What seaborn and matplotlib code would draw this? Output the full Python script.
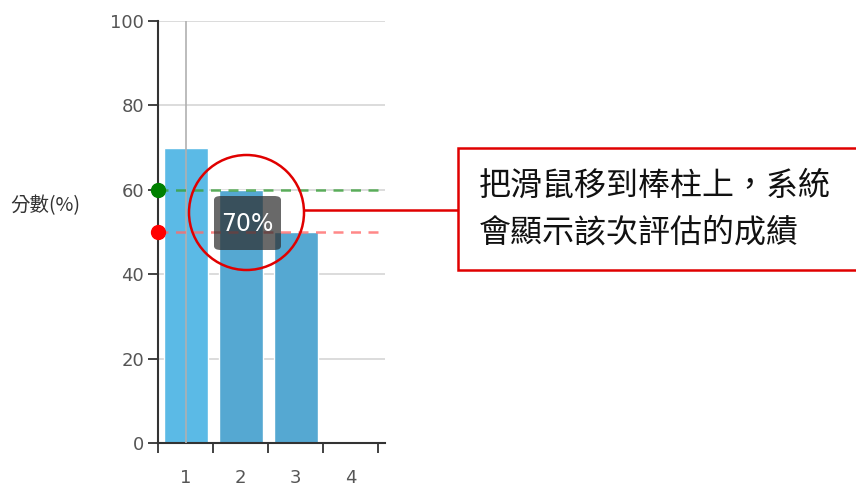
import matplotlib
matplotlib.use("Agg")
import matplotlib.pyplot as plt
import matplotlib.patches as mpatches
from matplotlib.lines import Line2D
import seaborn as sns
import pandas as pd

# ---- data ----
categories = ["1", "2", "3", "4"]
scores = [70, 60, 50, 0]
bar_colors = ["#5bbae6", "#55a8d2", "#55a8d2", "#55a8d2"]
pass_line = 60
warn_line = 50
y_ticks = [0, 20, 40, 60, 80, 100]
y_label = "分數(%)"
tooltip_text = "70%"
callout_lines = ["把滑鼠移到棒柱上，系統", "會顯示該次評估的成績"]

sns.set_theme(style="white")
plt.rcParams["font.family"] = ["DejaVu Sans", "Noto Sans CJK TC"]

W, H = 856, 487
fig = plt.figure(figsize=(W / 100, H / 100), dpi=100)
ax = fig.add_axes([158 / W, 1 - 443 / H, (385 - 158) / W, (443 - 21) / H])

df = pd.DataFrame({"cat": categories, "score": scores})
sns.barplot(data=df, x="cat", y="score", hue="cat", palette=bar_colors,
            width=0.8, legend=False, ax=ax, saturation=1)

ax.set_xlim(-0.5, 3.627)
ax.set_ylim(0, 100)
ax.set_xlabel("")
ax.set_ylabel("")

# grid
for v in y_ticks[1:]:
    ax.axhline(v, color="#d6d6d6", lw=1.2, zorder=0)
# hover crosshair
ax.axvline(0, color="#b0b0b0", lw=1.2, zorder=3)

# threshold lines
ax.axhline(pass_line, color="#3aa03a", lw=1.8, ls=(0, (4, 3)), alpha=0.8, zorder=4)
ax.axhline(warn_line, color="#ff6b6b", lw=1.8, ls=(0, (4, 3)), alpha=0.8, zorder=4)
ax.plot([-0.5], [pass_line], "o", color="#008000", ms=10, clip_on=False, zorder=6)
ax.plot([-0.5], [warn_line], "o", color="#ff0000", ms=10, clip_on=False, zorder=6)

# spines
for s in ["top", "right"]:
    ax.spines[s].set_visible(False)
for s in ["left", "bottom"]:
    ax.spines[s].set_color("#333333")
    ax.spines[s].set_linewidth(1.5)

ax.set_yticks(y_ticks)
ax.set_yticklabels([str(v) for v in y_ticks])
ax.tick_params(axis="y", direction="out", length=7, width=1.3, color="#333333",
               labelsize=13, labelcolor="#555555", pad=3, left=True)
ax.set_xticks(range(len(categories)))
ax.set_xticklabels(categories)
ax.set_xticks([-0.5, 0.5, 1.5, 2.5, 3.5], minor=True)
ax.tick_params(axis="x", which="major", length=0, labelsize=13,
               labelcolor="#555555", pad=19)
ax.tick_params(axis="x", which="minor", direction="out", length=7, width=1.3,
               color="#333333", bottom=True)

# y label
fig.text(10 / W, 1 - 206 / H, y_label, fontsize=14, color="#333333",
         family=["Noto Sans CJK TC", "DejaVu Sans"], va="center", ha="left")

# tooltip
tip = mpatches.FancyBboxPatch((214 / W, 1 - 250 / H), (281 - 214) / W, (250 - 196) / H,
                              boxstyle="round,pad=0,rounding_size=0.008",
                              transform=fig.transFigure, facecolor="#2f2f2f",
                              alpha=0.72, edgecolor="none", zorder=10)
fig.add_artist(tip)
fig.text(247.5 / W, 1 - 224 / H, tooltip_text, color="white", fontsize=17,
         ha="center", va="center", zorder=11)

# red circle
circ = mpatches.Ellipse((246.5 / W, 1 - 212.5 / H), 115 / W, 115 / H,
                        transform=fig.transFigure, facecolor="none",
                        edgecolor="#e00000", lw=1.8, zorder=12)
fig.add_artist(circ)
fig.add_artist(Line2D([304 / W, 458 / W], [1 - 210 / H, 1 - 210 / H],
                      transform=fig.transFigure, color="#e00000", lw=1.8, zorder=12))
box = mpatches.Rectangle((458 / W, 1 - 270 / H), 420 / W, 122 / H,
                         transform=fig.transFigure, facecolor="white",
                         edgecolor="#e00000", lw=1.8, zorder=12)
fig.add_artist(box)
fig.text(479 / W, 1 - 186 / H, callout_lines[0], fontsize=23, color="#111111",
         fontweight="light",
         family=["Noto Sans CJK TC", "DejaVu Sans"], va="center", ha="left", zorder=13)
fig.text(479 / W, 1 - 233 / H, callout_lines[1], fontsize=23, color="#111111",
         fontweight="light",
         family=["Noto Sans CJK TC", "DejaVu Sans"], va="center", ha="left", zorder=13)

fig.savefig("out.png", dpi=100)
